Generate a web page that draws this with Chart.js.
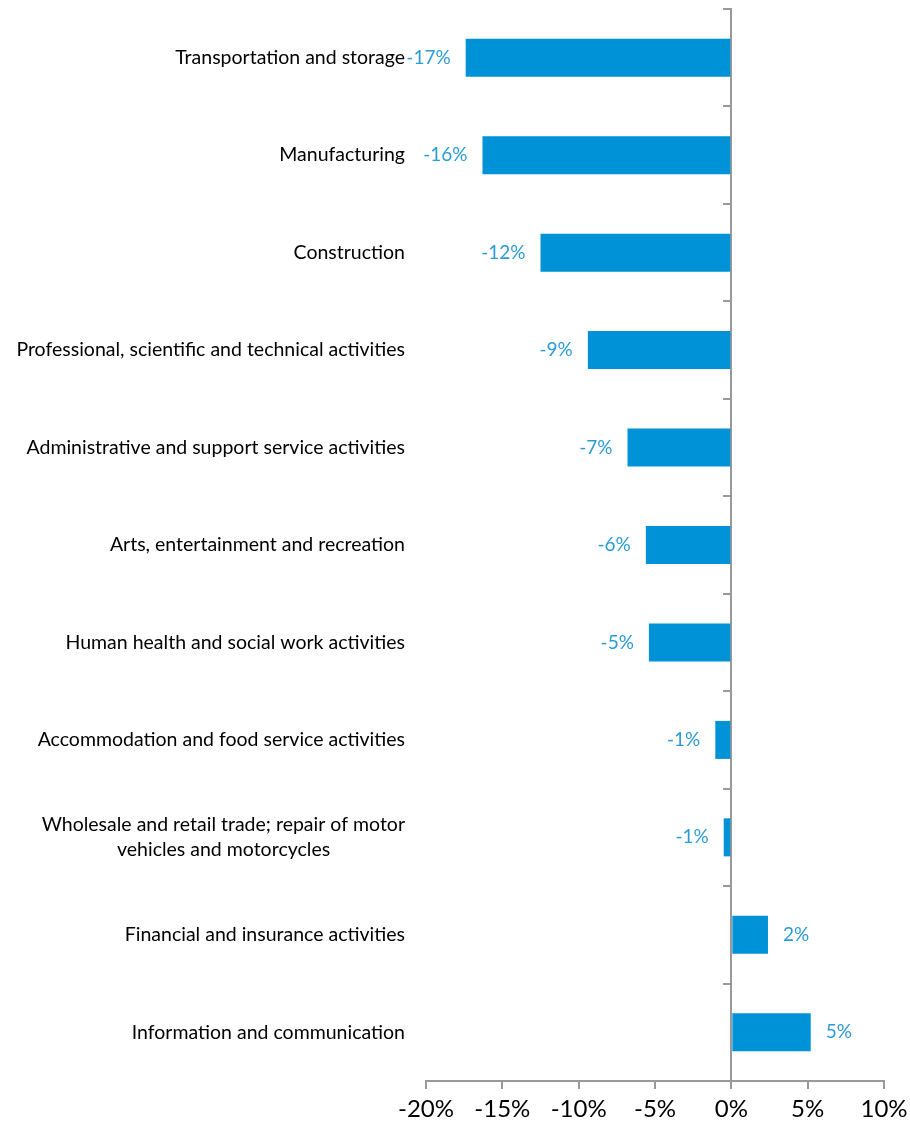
<!DOCTYPE html>
<html>
<head>
<meta charset="utf-8">
<script src="https://cdn.jsdelivr.net/npm/chart.js@4.4.0/dist/chart.umd.min.js"></script>
<style>
  body { margin: 0; background: #fff; }
</style>
</head>
<body>
<canvas id="myChart" width="910" height="1126"></canvas>
<script>
var categories = [
  'Transportation and storage',
  'Manufacturing',
  'Construction',
  'Professional, scientific and technical activities',
  'Administrative and support service activities',
  'Arts, entertainment and recreation',
  'Human health and social work activities',
  'Accommodation and food service activities',
  ['Wholesale and retail trade; repair of motor', 'vehicles and motorcycles'],
  'Financial and insurance activities',
  'Information and communication'
];
var change = [-17.4, -16.3, -12.5, -9.4, -6.8, -5.6, -5.4, -1.05, -0.5, 2.4, 5.2];
var changeLabels = ['-17%', '-16%', '-12%', '-9%', '-7%', '-6%', '-5%', '-1%', '-1%', '2%', '5%'];
var xTickLabels = ['-20%', '-15%', '-10%', '-5%', '0%', '5%', '10%'];

var FONT = 'Lato';
var CAT_SIZE = 19.5;
var axisGrey = '#999999';

// centre the lines of a wrapped label while the axis keeps right alignment
var measureCtx = document.createElement('canvas').getContext('2d');
function centreLines(lines, size) {
  measureCtx.font = size + 'px ' + FONT;
  var widths = lines.map(function(l) { return measureCtx.measureText(l).width; });
  var maxW = Math.max.apply(null, widths);
  var sp = measureCtx.measureText(' ').width;
  return lines.map(function(l, i) {
    var n = Math.round((maxW - widths[i]) / 2 / sp);
    return l + new Array(n + 1).join(' ');
  });
}

function noPadding(s) {
  s.paddingTop = 0;
  s.paddingBottom = 0;
  s.paddingLeft = 0;
  s.paddingRight = 0;
}

var barLabels = {
  id: 'barLabels',
  afterDatasetsDraw: function(chart) {
    var ctx = chart.ctx;
    var meta = chart.getDatasetMeta(0);
    ctx.save();
    ctx.font = '19px ' + FONT;
    ctx.fillStyle = '#2b9bd8';
    ctx.textBaseline = 'middle';
    meta.data.forEach(function(bar, i) {
      if (change[i] < 0) {
        ctx.textAlign = 'right';
        ctx.fillText(changeLabels[i], bar.x - 15, bar.y);
      } else {
        ctx.textAlign = 'left';
        ctx.fillText(changeLabels[i], bar.x + 15, bar.y);
      }
    });
    ctx.restore();
  }
};

var chartdata = {
  labels: categories,
  datasets: [{
    label: 'Change',
    data: change,
    backgroundColor: '#0092d6',
    borderWidth: 0,
    barPercentage: 0.39,
    categoryPercentage: 1
  }]
};

var ctx = document.getElementById('myChart');
var barGraph = new Chart(ctx, {
  type: 'bar',
  data: chartdata,
  plugins: [barLabels],
  options: {
    indexAxis: 'y',
    responsive: false,
    animation: false,
    layout: { padding: { left: 10, top: 9, right: 26, bottom: 0 } },
    plugins: {
      legend: { display: false },
      tooltip: { enabled: false }
    },
    scales: {
      x: {
        min: -20,
        max: 10,
        ticks: {
          stepSize: 5,
          color: '#000',
          font: { family: FONT, size: 24 },
          padding: 6,
          callback: function(v, i) { return xTickLabels[i]; }
        },
        grid: { drawOnChartArea: false, color: axisGrey, lineWidth: 2, tickLength: 8 },
        border: { color: axisGrey, width: 2 },
        afterFit: function(s) { s.height = 45; noPadding(s); }
      },
      y: {
        ticks: {
          color: '#000',
          font: { family: FONT, size: CAT_SIZE, lineHeight: 1.3 },
          padding: 21,
          crossAlign: 'near',
          callback: function(v) {
            var l = this.getLabelForValue(v);
            return Array.isArray(l) ? centreLines(l, CAT_SIZE) : l;
          }
        },
        grid: { display: false, drawTicks: false },
        border: { display: false },
        afterFit: function(s) { s.width = 416; noPadding(s); }
      },
      y0: {
        type: 'category',
        position: { x: 0 },
        offset: true,
        ticks: { display: false },
        grid: { drawOnChartArea: false, offset: true, color: axisGrey, lineWidth: 2, tickLength: 7 },
        border: { color: axisGrey, width: 2 },
        afterFit: noPadding
      }
    }
  }
});
</script>
</body>
</html>
